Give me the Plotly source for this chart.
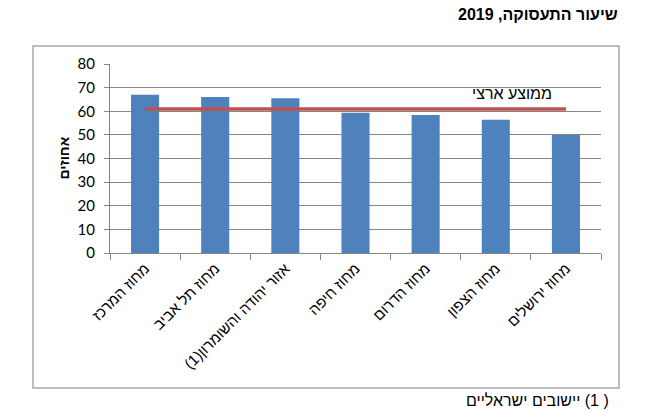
import plotly.graph_objects as go

# data
regions = ['מחוז המרכז', 'מחוז תל אביב', '\u202bאזור יהודה והשומרון(1)\u202c',
           'מחוז חיפה', 'מחוז הדרום', 'מחוז הצפון', 'מחוז ירושלים']
employment_rate = [67.0, 66.0, 65.5, 59.4, 58.4, 56.4, 49.9]
national_avg = 61.0

# plot area in pixels: x 110..601, y 64..253
def px(x):
    return (x - 110) / 491

def py(y):
    return (253 - y) / 189

fig = go.Figure()

fig.add_trace(go.Bar(x=regions, y=employment_rate,
                     marker=dict(color='#4F81BD', line=dict(width=0)),
                     showlegend=False))
fig.add_trace(go.Scatter(x=[regions[0], regions[-1]], y=[national_avg, national_avg],
                         mode='lines', line=dict(color='#C0504D', width=3.5),
                         showlegend=False))

# label for the average line
fig.add_annotation(x=regions[-1], y=national_avg, xref='x', yref='y',
                   text='ממוצע ארצי', showarrow=False,
                   xanchor='right', yanchor='bottom', xshift=-12, yshift=5,
                   font=dict(family='Liberation Sans, Arial', size=16, color='#000'))

# y axis title (placed by hand, plotly's standoff pushes it too far out)
fig.add_annotation(x=px(63), y=0.5, xref='paper', yref='paper',
                   text='<b>אחוזים</b>', showarrow=False, textangle=-90,
                   xanchor='center', yanchor='middle',
                   font=dict(family='Liberation Sans, Arial', size=14, color='#000'))

# title and footnote
fig.add_annotation(x=px(620), y=py(15), xref='paper', yref='paper',
                   text='<b>\u202bשיעור התעסוקה, 2019\u202c</b>', showarrow=False,
                   xanchor='right', yanchor='middle',
                   font=dict(family='Liberation Sans, Arial', size=16, color='#000'))
fig.add_annotation(x=px(611), y=py(400), xref='paper', yref='paper',
                   text='\u202b( 1) יישובים ישראליים\u202c', showarrow=False,
                   xanchor='right', yanchor='middle',
                   font=dict(family='Liberation Sans, Arial', size=16, color='#000'))

# outer chart frame
fig.add_shape(type='rect', xref='paper', yref='paper',
              x0=px(33), x1=px(619), y0=py(388), y1=py(46),
              line=dict(color='#a6a6a6', width=1.5), fillcolor='rgba(0,0,0,0)', layer='below')

fig.update_layout(
    width=660, height=412,
    margin=dict(l=110, r=59, t=64, b=159),
    plot_bgcolor='white', paper_bgcolor='white',
    bargap=0.6,
    xaxis=dict(showline=True, linecolor='#868686', linewidth=1,
               ticks='outside', tickson='boundaries', ticklen=6, tickcolor='#868686',
               tickangle=-45,
               tickfont=dict(family='Liberation Sans, Arial', size=15, color='#000')),
    yaxis=dict(range=[0, 80], dtick=10, showline=True, linecolor='#868686', linewidth=1,
               showgrid=True, gridcolor='#868686', gridwidth=1,
               ticks='outside', ticklen=5, tickcolor='#868686',
               zeroline=False, ticklabelstandoff=6,
               tickfont=dict(family='Lato, Open Sans', size=15, color='#000')),
)

fig.write_html("out.html", config={'displayModeBar': False},
               post_script="document.body.style.margin='0';")
